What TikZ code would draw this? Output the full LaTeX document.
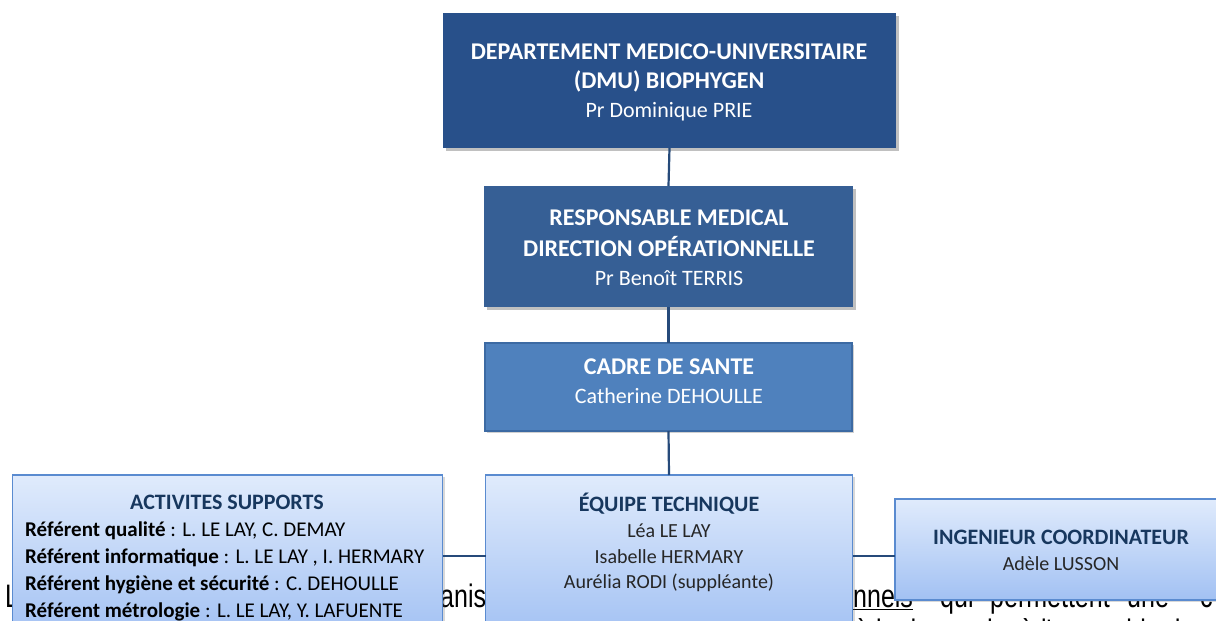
\documentclass[tikz,border=0pt]{standalone}
\usepackage{fontspec}
\usepackage{graphicx}
\setmainfont{Carlito}
\newfontfamily\arialfont{Liberation Sans}
\usetikzlibrary{shadows,calc}
\definecolor{dmublue}{HTML}{28508A}
\definecolor{respblue}{HTML}{365F95}
\definecolor{cadreblue}{HTML}{4F81BD}
\definecolor{cadreedge}{HTML}{3C6AA3}
\definecolor{lighttop}{HTML}{E0EBFC}
\definecolor{lightbot}{HTML}{A2C1F3}
\definecolor{lightedge}{HTML}{5A8BD0}
\definecolor{linkblue}{HTML}{264A7A}
\definecolor{navytext}{HTML}{17375E}
\definecolor{nametext}{HTML}{262626}
\newcommand{\tallbg}[1]{\scalebox{1}[1.3]{#1}}
\tikzset{
  boxbase/.style={rectangle, inner sep=0pt, outer sep=0pt},
  darkbox/.style={boxbase, fill=#1, drop shadow={shadow xshift=2.5pt, shadow yshift=-3pt, opacity=0.35, fill=black!70}},
  lightbox/.style={boxbase, draw=lightedge, line width=1.6pt, top color=lighttop, bottom color=lightbot, drop shadow={shadow xshift=2pt, shadow yshift=-2pt, opacity=0.25, fill=black!60}},
  link/.style={draw=linkblue, line width=2.2pt},
  wtitle/.style={inner sep=0pt, anchor=base, text=white, font=\fontsize{24}{28}\selectfont\bfseries},
  wname/.style={inner sep=0pt, anchor=base, text=white, font=\fontsize{22}{26}\selectfont},
  ltitle/.style={inner sep=0pt, anchor=base, text=navytext, font=\fontsize{22}{26}\selectfont\bfseries},
  lname/.style={inner sep=0pt, anchor=base, text=nametext, font=\fontsize{20}{24}\selectfont},
  lref/.style={inner sep=0pt, anchor=base west, text=black, font=\fontsize{21}{25}\selectfont},
  bgtext/.style={inner sep=0pt, anchor=base west, text=black, font=\arialfont\fontsize{25}{30}\selectfont},
}
\begin{document}
\begin{tikzpicture}[x=1pt,y=-1pt]
\useasboundingbox (0,0) rectangle (1216,621);
\fill[white] (0,0) rectangle (1216,621);
% background document text, partly hidden by the boxes
\node[bgtext] (bgL) at (5,607) {\tallbg{L}};
\node[bgtext] (bgA) at (440,607) {\tallbg{anisation}};
\node[bgtext] (bgB) at (853,607) {\tallbg{\underline{nnels}}};
\node[bgtext] (bgC) at (940,607) {\tallbg{qui}};
\node[bgtext] (bgD) at (990,607) {\tallbg{permettent}};
\node[bgtext] (bgE) at (1127,607) {\tallbg{une}};
\node[bgtext] (bgF) at (1200,607) {\tallbg{c}};
\node[bgtext] (bgG) at (855,642) {\tallbg{à la demande,}};
\node[bgtext] (bgH) at (1020,642) {\tallbg{à l'ensemble des}};
% boxes
\node[darkbox=dmublue, minimum width=453pt, minimum height=135pt] (dmu) at (669.5,80.5) {};
\node[darkbox=respblue, minimum width=369pt, minimum height=121pt] (resp) at (668.5,246.5) {};
\node[boxbase, fill=cadreblue, draw=cadreedge, line width=2pt, minimum width=367pt, minimum height=88pt, drop shadow={shadow xshift=2pt, shadow yshift=-2pt, opacity=0.3, fill=black!60}] (cadre) at (668.5,387) {};
\node[lightbox, minimum width=430pt, minimum height=162pt] (act) at (227.5,556) {};
\node[lightbox, minimum width=367pt, minimum height=162pt] (equipe) at (669,556) {};
\node[lightbox, minimum width=345pt, minimum height=101pt] (ing) at (1067.5,549.5) {};
% connectors
\draw[link] (dmu.south) -- (resp.north);
\draw[link] (resp.south) -- (cadre.north);
\draw[link] (cadre.south) -- (equipe.north);
\draw[link] (act.east) -- (equipe.west);
\draw[link] (equipe.east) -- (ing.west |- equipe.east);
% texts
\node[wtitle] (t1a) at (669,59) {DEPARTEMENT MEDICO-UNIVERSITAIRE};
\node[wtitle] (t1b) at (669,88) {(DMU) BIOPHYGEN};
\node[wname] (t1c) at (669,117) {Pr Dominique PRIE};
\node[wtitle] (t2a) at (669,225) {RESPONSABLE MEDICAL};
\node[wtitle] (t2b) at (669,256) {DIRECTION OPÉRATIONNELLE};
\node[wname] (t2c) at (669,285) {Pr Benoît TERRIS};
\node[wtitle] (t3a) at (669,374) {CADRE DE SANTE};
\node[wname] (t3b) at (669,403) {Catherine DEHOULLE};
\node[ltitle] (t4a) at (227,509) {ACTIVITES SUPPORTS};
\node[lref] (t4b) at (25,536) {\textbf{Référent qualité} : L. LE LAY, C. DEMAY};
\node[lref] (t4c) at (25,563) {\textbf{Référent informatique} : L. LE LAY , I. HERMARY};
\node[lref] (t4d) at (25,590) {\textbf{Référent hygiène et sécurité} : C. DEHOULLE};
\node[lref] (t4e) at (25,617) {\textbf{Référent métrologie} : L. LE LAY, Y. LAFUENTE};
\node[ltitle] (t5a) at (669,511) {ÉQUIPE TECHNIQUE};
\node[lname] (t5b) at (669,537) {Léa LE LAY};
\node[lname] (t5c) at (669,563) {Isabelle HERMARY};
\node[lname] (t5d) at (669,588) {Aurélia RODI (suppléante)};
\node[ltitle] (t6a) at (1061,544) {INGENIEUR COORDINATEUR};
\node[lname] (t6b) at (1061,570) {Adèle LUSSON};
\end{tikzpicture}
\end{document}
